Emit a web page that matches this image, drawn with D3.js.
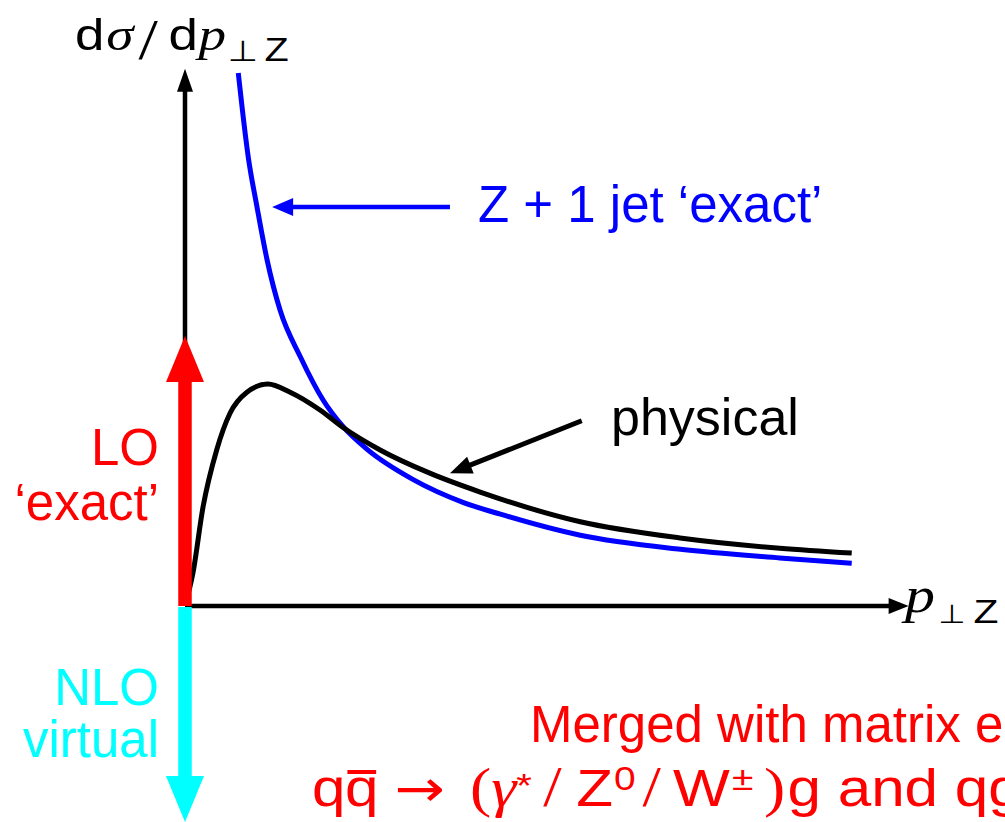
<!DOCTYPE html>
<html>
<head>
<meta charset="utf-8">
<script src="https://cdn.jsdelivr.net/npm/d3@7"></script>
<style>
  html, body { margin: 0; padding: 0; background: #fff; }
  svg { display: block; }
</style>
</head>
<body>
<script>
// Transverse momentum spectrum of the Z: fixed-order vs physical shape (arbitrary units)
const zjetPt   = [0.74, 0.88, 1.0, 1.14, 1.32, 1.6, 1.92, 2.19, 2.53, 3.17, 3.86, 4.38, 5.49, 6.88, 8.26, 9.26];
const zjetXsec = [9.87, 8.30, 7.39, 6.41, 5.48, 4.62, 3.81, 3.33, 2.90, 2.34, 1.92, 1.70, 1.31, 1.05, 0.89, 0.79];

const physPt   = [0, 0.11, 0.25, 0.44, 0.625, 0.86, 1.15, 1.46, 1.875, 2.19, 2.71, 3.40, 4.10, 5.49, 6.875, 8.26, 9.26];
const physXsec = [0, 0.61, 1.83, 2.89, 3.57, 3.96, 4.11, 3.96, 3.63, 3.31, 2.89, 2.46, 2.11, 1.56, 1.26, 1.07, 0.98];

// Delta-function contributions at pT = 0
const loExact    = 5.0;
const nloVirtual = -4.0;

const W = 1005, H = 822;
const FONT = "'Liberation Sans', Arial, Helvetica, sans-serif";
const MATH = "'Liberation Serif', 'DejaVu Serif', serif";
const SYM  = "'DejaVu Sans', sans-serif";

const svg = d3.select("body").append("svg")
  .attr("width", W).attr("height", H)
  .attr("viewBox", `0 0 ${W} ${H}`);

const x = d3.scaleLinear().domain([0, 10]).range([185, 905]);
const y = d3.scaleLinear().domain([0, 10]).range([606, 66]);

// Generic arrow: shaft + triangular head, tip at (x2,y2)
function arrow(g, x1, y1, x2, y2, shaftW, headLen, headHalf, color) {
  const dx = x2 - x1, dy = y2 - y1, L = Math.hypot(dx, dy);
  const ux = dx / L, uy = dy / L, nx = -uy, ny = ux;
  const bx = x2 - ux * headLen, by = y2 - uy * headLen;
  g.append("line")
    .attr("x1", x1).attr("y1", y1)
    .attr("x2", bx + ux).attr("y2", by + uy)
    .attr("stroke", color).attr("stroke-width", shaftW);
  g.append("path")
    .attr("d", `M${x2},${y2}L${bx + nx * headHalf},${by + ny * headHalf}L${bx - nx * headHalf},${by - ny * headHalf}Z`)
    .attr("fill", color);
}

// Axes
const axes = svg.append("g");
arrow(axes, x(0), y(0), x(0), y(9.95), 4.5, 23, 8, "#000");
arrow(axes, x(0), y(0), x(10.05), y(0), 4.5, 20, 8, "#000");

// Curves
const line = d3.line()
  .x(d => x(d[0])).y(d => y(d[1]))
  .curve(d3.curveMonotoneX);

svg.append("path")
  .datum(d3.zip(zjetPt, zjetXsec))
  .attr("d", line)
  .attr("fill", "none").attr("stroke", "#0000ff").attr("stroke-width", 5);

svg.append("path")
  .datum(d3.zip(physPt, physXsec))
  .attr("d", line)
  .attr("fill", "none").attr("stroke", "#000").attr("stroke-width", 5)
  .attr("stroke-linejoin", "round");

// LO and NLO virtual delta contributions
const deltas = svg.append("g");
arrow(deltas, x(0), y(0), x(0), y(loExact), 13.5, 46, 19, "#ff0000");
arrow(deltas, x(0), y(0) + 1, x(0), y(nloVirtual), 13.5, 46, 19, "#00ffff");

// Callout arrows
const callouts = svg.append("g");
arrow(callouts, x(3.68), y(7.39), x(1.21), y(7.39), 4.5, 21, 9, "#0000ff");
arrow(callouts, x(5.51), y(3.43), x(3.68), y(2.46), 5, 22, 9, "#000");

// Text labels
function label(txt, px, py, color, anchor) {
  return svg.append("text")
    .attr("x", px).attr("y", py)
    .attr("fill", color)
    .attr("font-family", FONT).attr("font-size", 51)
    .attr("text-anchor", anchor || "start")
    .text(txt);
}

label("Z + 1 jet \u2018exact\u2019", 478, 222, "#0000ff");
label("physical", 611, 435, "#000").attr("font-size", 52);
label("LO", 159, 465, "#ff0000", "end");
label("\u2018exact\u2019", 159, 520, "#ff0000", "end");
label("NLO", 159, 705, "#00ffff", "end");
label("virtual", 159, 757, "#00ffff", "end");
label("Merged with matrix elements for", 530, 742, "#ff0000");

// Pieces of a formula, each placed on its own
function part(t, txt, px, py, fam, size, italic) {
  const s = t.append("tspan").attr("x", px).attr("y", py)
    .attr("font-family", fam).attr("font-size", size).text(txt);
  if (italic) s.attr("font-style", "italic");
  return s;
}

// dσ/dp⊥Z
const yt = svg.append("text").attr("fill", "#000")
  .attr("transform", "translate(75,50) scale(1.2,1)");
part(yt, "d", 0, 0, FONT, 44);
part(yt, "\u03c3", 26, 0, MATH, 46, true);
part(yt, "/", 53, 9, MATH, 58);
part(yt, "d", 78, 0, FONT, 44);
part(yt, "p", 103, 0, MATH, 46, true);
part(yt, "\u22a5", 127, 11, SYM, 29);
part(yt, "Z", 158, 11, FONT, 33);

// p⊥Z
const xt = svg.append("text").attr("fill", "#000")
  .attr("transform", "translate(905,612) scale(1.2,1)");
part(xt, "p", 0, 0, MATH, 50, true);
part(xt, "\u22a5", 28, 11, SYM, 26);
part(xt, "Z", 57, 11, FONT, 34);

// Process line: qq̄ → (γ*/Z0/W±)g and qg
const procG = svg.append("g").attr("transform", "translate(312,0) scale(1.18,1)");
const pl = procG.append("text").attr("fill", "#ff0000");
const base = 806, supY = base - 16;
part(pl, "q", 0, base, FONT, 51);
part(pl, "q", 28, base, FONT, 51);
part(pl, "\u2192", 70, base, SYM, 51);
part(pl, "(", 134, base, MATH, 54);
part(pl, "\u03b3", 152, base, MATH, 54, true);
part(pl, "*", 173, base - 9, FONT, 34);
part(pl, "/", 196, base, MATH, 56);
part(pl, "Z", 224, base, FONT, 51);
part(pl, "0", 256, supY, FONT, 33);
part(pl, "/", 280, base, MATH, 56);
part(pl, "W", 306, base, FONT, 51);
part(pl, "\u00b1", 356, supY, FONT, 33);
part(pl, ")", 383, base, MATH, 54);
part(pl, "g and qg", 403, base, FONT, 51);

// Overline on the antiquark
const ext = pl.node().getExtentOfChar(1);
procG.append("line")
  .attr("x1", ext.x + 2).attr("x2", ext.x + ext.width - 2)
  .attr("y1", 772).attr("y2", 772)
  .attr("stroke", "#ff0000").attr("stroke-width", 4);
</script>
</body>
</html>
